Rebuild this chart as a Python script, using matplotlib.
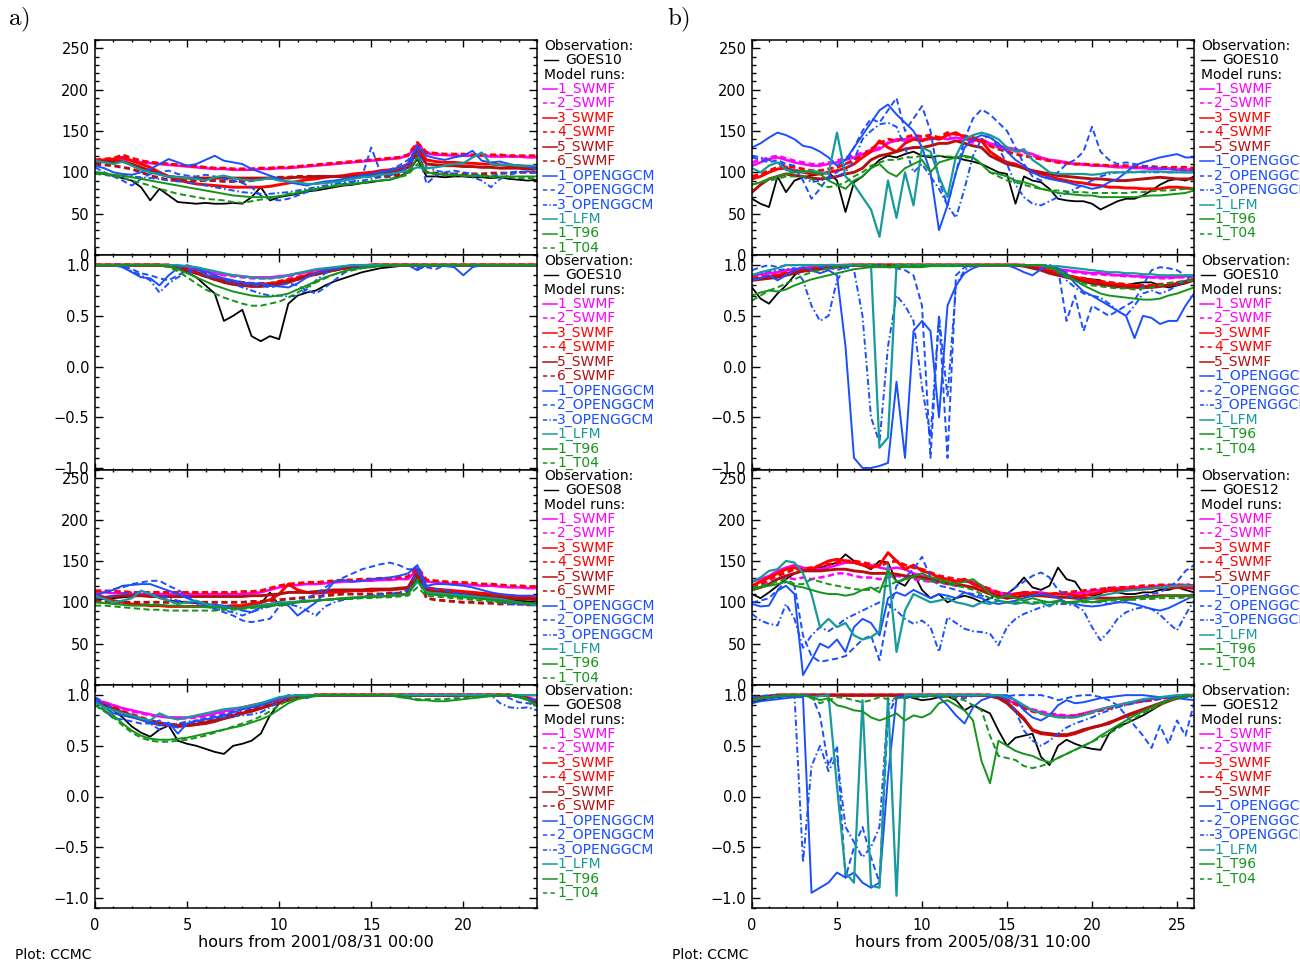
import numpy as np
import matplotlib
matplotlib.use("Agg")
import matplotlib.pyplot as plt
from matplotlib.lines import Line2D
from matplotlib.ticker import MultipleLocator, FuncFormatter

# ------------------------------------------------------------------ time axes
hours_a = np.arange(0, 24.01, 0.5)   # hours from 2001/08/31 00:00
hours_b = np.arange(0, 26.01, 0.5)   # hours from 2005/08/31 10:00

# ============================ event a: |B| at GOES10 ============================
a1_goes10 = [100, 98, 96, 93, 90, 82, 66, 80, 72, 64,
             63, 62, 63, 62, 62, 63, 62, 70, 82, 66,
             70, 72, 74, 77, 78, 80, 82, 84, 85, 87,
             88, 90, 91, 95, 100, 116, 95, 95, 94, 95,
             95, 94, 94, 93, 94, 92, 91, 90, 91]
a1_swmf1 = [113, 113, 114, 116, 114, 112, 111, 110, 109, 108,
            107, 106, 105, 104, 104, 103, 103, 103, 104, 104,
            105, 105, 106, 107, 108, 109, 110, 111, 112, 113,
            114, 115, 116, 117, 120, 134, 123, 121, 121, 120,
            120, 120, 120, 119, 119, 119, 119, 118, 118]
a1_swmf2 = [114, 114, 115, 118, 115, 113, 112, 111, 110, 109,
            108, 107, 106, 105, 105, 104, 104, 104, 105, 105,
            106, 106, 107, 108, 109, 110, 111, 112, 113, 114,
            115, 116, 117, 118, 121, 135, 124, 122, 121, 121,
            121, 121, 120, 120, 120, 120, 119, 119, 119]
a1_swmf3 = [114, 115, 116, 118, 114, 110, 106, 100, 95, 91,
            88, 86, 85, 84, 83, 82, 82, 82, 82, 83,
            85, 87, 89, 91, 92, 94, 95, 96, 98, 99,
            100, 102, 103, 105, 110, 130, 115, 113, 112, 112,
            111, 111, 110, 110, 109, 108, 108, 107, 106]
a1_swmf4 = [115, 116, 117, 121, 117, 114, 112, 111, 110, 109,
            108, 107, 106, 105, 105, 104, 104, 104, 105, 105,
            106, 106, 107, 108, 109, 110, 111, 112, 113, 114,
            115, 116, 117, 118, 121, 136, 124, 123, 122, 122,
            122, 121, 121, 121, 121, 120, 120, 120, 120]
a1_swmf5 = [112, 113, 113, 113, 110, 106, 102, 98, 95, 94,
            93, 93, 93, 93, 93, 93, 93, 93, 93, 93,
            93, 93, 94, 94, 95, 95, 95, 95, 95, 96,
            97, 98, 100, 102, 106, 126, 110, 109, 108, 108,
            107, 107, 106, 106, 105, 105, 105, 104, 104]
a1_swmf6 = [110, 109, 108, 106, 104, 100, 96, 93, 91, 90,
            90, 90, 90, 90, 89, 89, 89, 90, 92, 93,
            94, 94, 95, 95, 95, 95, 95, 95, 95, 95,
            95, 95, 95, 97, 100, 120, 100, 99, 98, 98,
            98, 98, 98, 99, 99, 99, 100, 100, 100]
a1_ogg1 = [108, 105, 100, 98, 97, 100, 104, 110, 116, 112,
           108, 110, 115, 120, 114, 112, 110, 104, 100, 96,
           92, 88, 86, 84, 87, 89, 90, 92, 94, 96,
           98, 100, 102, 105, 110, 132, 120, 117, 115, 118,
           120, 126, 114, 112, 113, 110, 108, 107, 104]
a1_ogg2 = [106, 100, 95, 90, 84, 92, 98, 100, 102, 98,
           96, 95, 97, 95, 92, 90, 87, 82, 72, 68,
           66, 68, 72, 76, 79, 82, 84, 86, 88, 95,
           130, 100, 103, 108, 115, 130, 86, 96, 100, 102,
           100, 98, 96, 95, 98, 100, 101, 100, 100]
a1_ogg3 = [100, 98, 96, 95, 95, 94, 93, 92, 90, 89,
           88, 86, 84, 82, 80, 78, 76, 75, 74, 74,
           75, 76, 78, 80, 82, 84, 86, 88, 89, 90,
           92, 94, 96, 100, 106, 124, 106, 102, 100, 98,
           96, 94, 90, 82, 92, 97, 100, 101, 102]
a1_lfm = [114, 112, 110, 113, 108, 103, 100, 97, 95, 94,
          93, 92, 90, 94, 96, 93, 91, 90, 91, 93,
          90, 89, 88, 86, 86, 87, 88, 90, 92, 94,
          95, 97, 98, 100, 102, 106, 105, 106, 108, 110,
          111, 118, 124, 110, 109, 109, 108, 108, 108]
a1_t96 = [100, 99, 97, 96, 94, 92, 90, 88, 86, 84,
          82, 80, 78, 76, 74, 72, 71, 70, 70, 70,
          71, 73, 75, 78, 80, 82, 83, 85, 86, 87,
          89, 90, 91, 94, 100, 118, 100, 98, 97, 97,
          96, 96, 96, 95, 95, 95, 95, 95, 95]
a1_t04 = [98, 97, 95, 93, 90, 87, 84, 80, 77, 74,
          72, 70, 68, 67, 66, 64, 63, 65, 67, 69,
          71, 74, 76, 78, 80, 82, 84, 85, 86, 88,
          89, 90, 92, 94, 97, 110, 100, 98, 97, 96,
          96, 95, 95, 94, 94, 94, 93, 93, 93]

# ===================== event a: field-direction cosine at GOES10 ================
a2_goes10 = [1, 1, 1, 1, 1, 1, 1, 1, .99, .97,
             .93, .88, .8, .72, .45, .5, .56, .3, .25, .3,
             .27, .62, .7, .73, .75, .8, .84, .87, .9, .93,
             .95, .97, .98, .99, 1, 1, 1, 1, 1, 1,
             1, 1, 1, 1, 1, 1, 1, 1, 1]
a2_swmf1 = [1, 1, 1, 1, 1, 1, 1, 1, 1, .99,
            .98, .96, .94, .92, .91, .9, .89, .88, .88, .88,
            .89, .9, .92, .93, .95, .96, .97, .98, .99, 1,
            1, 1, 1, 1, 1, 1, 1, 1, 1, 1,
            1, 1, 1, 1, 1, 1, 1, 1, 1]
a2_swmf2 = [1, 1, 1, 1, 1, 1, 1, 1, 1, .99,
            .98, .96, .93, .91, .9, .89, .88, .87, .87, .87,
            .88, .89, .91, .93, .94, .96, .97, .98, .99, 1,
            1, 1, 1, 1, 1, 1, 1, 1, 1, 1,
            1, 1, 1, 1, 1, 1, 1, 1, 1]
a2_swmf3 = [1, 1, 1, 1, 1, 1, 1, 1, 1, .98,
            .96, .93, .9, .87, .85, .83, .82, .81, .81, .82,
            .83, .85, .87, .9, .92, .94, .96, .97, .98, .99,
            1, 1, 1, 1, 1, 1, 1, 1, 1, 1,
            1, 1, 1, 1, 1, 1, 1, 1, 1]
a2_swmf4 = [1, 1, 1, 1, 1, 1, 1, 1, 1, .98,
            .96, .94, .91, .88, .86, .84, .83, .82, .82, .82,
            .84, .86, .88, .9, .92, .94, .96, .97, .98, .99,
            1, 1, 1, 1, 1, 1, 1, 1, 1, 1,
            1, 1, 1, 1, 1, 1, 1, 1, 1]
a2_swmf5 = [1, 1, 1, 1, 1, 1, 1, 1, .99, .97,
            .95, .92, .89, .86, .83, .81, .8, .79, .79, .8,
            .81, .83, .86, .89, .91, .93, .95, .97, .98, .99,
            1, 1, 1, 1, 1, 1, 1, 1, 1, 1,
            1, 1, 1, 1, 1, 1, 1, 1, 1]
a2_swmf6 = [1, 1, 1, 1, 1, 1, 1, 1, .99, .97,
            .95, .92, .89, .86, .84, .82, .81, .8, .8, .81,
            .82, .84, .86, .89, .91, .93, .95, .97, .98, .99,
            1, 1, 1, 1, 1, 1, 1, 1, 1, 1,
            1, 1, 1, 1, 1, 1, 1, 1, 1]
a2_ogg1 = [1, 1, 1, .98, .93, .88, .87, .8, .9, .97,
           1, .97, .9, .88, .87, .85, .83, .82, .82, .8,
           .79, .78, .82, .88, .92, .95, .97, .99, 1, 1,
           1, 1, 1, 1, 1, .95, 1, 1, .99, .98,
           .9, .98, 1, 1, 1, 1, 1, 1, 1]
a2_ogg2 = [1, 1, 1, .99, .96, .92, .9, .87, .85, .9,
           .95, .96, .94, .9, .87, .84, .82, .8, .8, .78,
           .8, .82, .8, .75, .72, .78, .85, .92, .97, .99,
           1, 1, 1, 1, 1, .97, .98, .96, 1, 1,
           1, 1, 1, 1, 1, 1, 1, 1, 1]
a2_ogg3 = [1, 1, 1, .98, .94, .9, .85, .73, .82, .88,
           .92, .95, .93, .9, .86, .82, .78, .75, .72, .7,
           .7, .69, .7, .76, .85, .92, .96, .98, 1, 1,
           1, 1, 1, 1, 1, 1, 1, 1, 1, 1,
           1, 1, 1, 1, 1, 1, 1, 1, 1]
a2_lfm = [1, 1, 1, 1, 1, 1, 1, 1, 1, 1,
          .99, .98, .96, .94, .92, .9, .89, .88, .87, .87,
          .88, .9, .92, .94, .96, .97, .98, .99, 1, 1,
          1, 1, 1, 1, 1, 1, 1, 1, 1, 1,
          1, 1, 1, 1, 1, 1, 1, 1, 1]
a2_t96 = [1, 1, 1, 1, 1, 1, 1, 1, .99, .96,
          .92, .88, .84, .8, .77, .74, .72, .7, .69, .69,
          .7, .72, .76, .8, .84, .88, .91, .94, .96, .97,
          .98, .99, 1, 1, 1, 1, 1, 1, 1, 1,
          1, 1, 1, 1, 1, 1, 1, 1, 1]
a2_t04 = [1, 1, 1, 1, 1, 1, 1, 1, .98, .94,
          .88, .82, .76, .72, .68, .65, .62, .6, .6, .62,
          .64, .68, .73, .78, .83, .87, .91, .93, .95, .97,
          .98, .99, 1, 1, 1, 1, 1, 1, 1, 1,
          1, 1, 1, 1, 1, 1, 1, 1, 1]

# ============================ event a: |B| at GOES08 ============================
a3_goes08 = [103, 104, 105, 106, 107, 108, 110, 106, 102, 101,
             100, 99, 98, 96, 95, 93, 95, 96, 98, 112,
             96, 100, 100, 101, 102, 103, 104, 104, 105, 106,
             107, 107, 108, 109, 110, 130, 112, 111, 110, 109,
             108, 107, 106, 105, 104, 103, 102, 101, 100]
a3_swmf1 = [112, 112, 111, 111, 110, 110, 110, 110, 110, 110,
            110, 110, 110, 110, 110, 110, 110, 111, 112, 115,
            118, 120, 121, 122, 122, 123, 124, 125, 125, 126,
            126, 127, 127, 128, 128, 140, 125, 124, 123, 122,
            122, 121, 120, 120, 119, 118, 118, 117, 117]
a3_swmf2 = [113, 113, 112, 112, 111, 111, 111, 111, 111, 111,
            111, 111, 111, 111, 111, 111, 112, 112, 113, 116,
            119, 121, 122, 123, 123, 124, 125, 126, 126, 127,
            127, 128, 128, 129, 129, 141, 126, 125, 124, 123,
            123, 122, 121, 121, 120, 119, 119, 118, 118]
a3_swmf3 = [110, 106, 102, 100, 98, 97, 96, 96, 95, 95,
            95, 95, 95, 95, 95, 96, 96, 98, 100, 103,
            110, 122, 115, 112, 111, 112, 112, 113, 114, 114,
            114, 115, 115, 116, 117, 136, 118, 116, 115, 114,
            113, 112, 111, 110, 109, 108, 107, 106, 105]
a3_swmf4 = [114, 114, 113, 113, 112, 112, 112, 112, 112, 112,
            112, 112, 112, 112, 112, 112, 113, 113, 114, 117,
            120, 122, 123, 124, 124, 125, 126, 127, 127, 128,
            128, 129, 129, 130, 131, 143, 127, 126, 125, 124,
            124, 123, 122, 122, 121, 120, 120, 119, 119]
a3_swmf5 = [105, 106, 107, 108, 108, 108, 107, 107, 107, 107,
            107, 107, 107, 107, 107, 107, 107, 108, 108, 109,
            110, 112, 112, 112, 113, 114, 115, 115, 115, 115,
            116, 116, 116, 117, 118, 138, 115, 113, 112, 111,
            110, 109, 108, 107, 106, 105, 104, 104, 103]
a3_swmf6 = [102, 101, 100, 100, 100, 100, 100, 100, 100, 100,
            100, 100, 100, 100, 100, 100, 100, 101, 101, 102,
            103, 104, 105, 106, 107, 108, 109, 110, 110, 110,
            110, 110, 111, 111, 112, 132, 105, 103, 102, 101,
            100, 100, 99, 99, 98, 98, 98, 97, 97]
a3_ogg1 = [108, 112, 115, 120, 121, 122, 122, 118, 114, 110,
           105, 101, 98, 97, 96, 94, 90, 88, 94, 98,
           100, 96, 84, 92, 100, 112, 125, 127, 125, 126,
           128, 129, 130, 132, 135, 145, 120, 122, 122, 121,
           120, 118, 115, 112, 110, 109, 108, 108, 108]
a3_ogg2 = [108, 112, 116, 118, 122, 124, 126, 126, 120, 115,
           108, 100, 95, 92, 88, 84, 78, 76, 78, 80,
           95, 98, 100, 105, 110, 118, 125, 130, 135, 140,
           143, 146, 148, 145, 140, 140, 118, 116, 115, 112,
           110, 108, 105, 103, 100, 99, 98, 97, 96]
a3_ogg3 = [105, 106, 108, 110, 112, 112, 110, 108, 105, 102,
           100, 98, 95, 92, 90, 88, 84, 88, 92, 95,
           100, 98, 95, 90, 84, 95, 100, 103, 105, 107,
           108, 110, 110, 112, 115, 140, 112, 111, 110, 109,
           108, 107, 106, 104, 100, 98, 97, 98, 100]
a3_lfm = [108, 104, 100, 102, 105, 114, 110, 105, 102, 98,
          100, 102, 98, 95, 94, 92, 93, 95, 97, 98,
          100, 100, 101, 102, 102, 103, 104, 105, 106, 106,
          107, 107, 108, 109, 110, 125, 112, 111, 110, 109,
          108, 107, 106, 105, 104, 102, 100, 98, 97]
a3_t96 = [100, 99, 98, 97, 96, 96, 97, 97, 96, 96,
          95, 95, 94, 94, 93, 93, 93, 94, 95, 96,
          97, 98, 100, 101, 102, 103, 104, 105, 105, 106,
          107, 107, 108, 109, 110, 128, 110, 109, 108, 107,
          106, 105, 104, 103, 102, 101, 100, 99, 99]
a3_t04 = [96, 96, 95, 94, 93, 92, 91, 91, 90, 90,
          90, 90, 90, 90, 91, 91, 92, 93, 94, 95,
          97, 98, 100, 101, 102, 103, 103, 104, 104, 105,
          105, 106, 106, 107, 108, 118, 108, 107, 106, 105,
          104, 103, 102, 101, 100, 99, 99, 98, 98]

# ===================== event a: field-direction cosine at GOES08 ================
a4_goes08 = [.96, .9, .85, .78, .69, .63, .59, .66, .7, .55,
             .52, .5, .47, .44, .42, .5, .52, .55, .62, .8,
             .92, .96, .99, 1, 1, 1, 1, 1, 1, 1,
             1, 1, 1, 1, 1, 1, 1, .99, .99, .99,
             1, 1, 1, 1, 1, 1, 1, .97, .93]
a4_swmf1 = [.95, .93, .9, .87, .85, .83, .81, .79, .78, .78,
            .78, .79, .8, .82, .84, .86, .88, .9, .92, .94,
            .96, .98, .99, 1, 1, 1, 1, 1, 1, 1,
            1, 1, 1, 1, 1, 1, 1, 1, 1, 1,
            1, 1, 1, 1, 1, 1, 1, .98, .95]
a4_swmf2 = [.95, .93, .9, .87, .84, .82, .8, .79, .78, .77,
            .77, .78, .79, .81, .83, .85, .87, .89, .91, .93,
            .95, .97, .99, 1, 1, 1, 1, 1, 1, 1,
            1, 1, 1, 1, 1, 1, 1, 1, 1, 1,
            1, 1, 1, 1, 1, 1, .99, .97, .94]
a4_swmf3 = [.93, .9, .87, .83, .8, .77, .74, .72, .7, .7,
            .7, .71, .73, .75, .77, .8, .82, .85, .87, .9,
            .93, .96, .98, .99, 1, 1, 1, 1, 1, 1,
            1, 1, 1, 1, 1, 1, 1, 1, 1, 1,
            1, 1, 1, 1, 1, 1, .99, .97, .93]
a4_swmf4 = [.94, .91, .88, .84, .81, .78, .75, .73, .71, .71,
            .71, .72, .74, .76, .78, .81, .83, .86, .88, .91,
            .94, .96, .98, .99, 1, 1, 1, 1, 1, 1,
            1, 1, 1, 1, 1, 1, 1, 1, 1, 1,
            1, 1, 1, 1, 1, 1, .99, .97, .94]
a4_swmf5 = [.93, .9, .86, .82, .79, .76, .73, .71, .7, .69,
            .7, .71, .72, .74, .77, .79, .82, .84, .87, .9,
            .92, .95, .97, .99, 1, 1, 1, 1, 1, 1,
            1, 1, 1, 1, 1, 1, 1, 1, 1, 1,
            1, 1, 1, 1, 1, 1, .99, .96, .92]
a4_swmf6 = [.94, .9, .87, .83, .8, .77, .74, .72, .71, .7,
            .71, .72, .73, .75, .78, .8, .83, .85, .88, .9,
            .93, .95, .97, .99, 1, 1, 1, 1, 1, 1,
            1, 1, 1, 1, 1, 1, 1, 1, 1, 1,
            1, 1, 1, 1, 1, 1, .99, .96, .93]
a4_ogg1 = [.97, .88, .82, .8, .78, .76, .74, .7, .73, .62,
           .72, .74, .76, .78, .8, .83, .86, .88, .9, .93,
           .97, .99, 1, .97, 1, 1, 1, 1, 1, 1,
           1, 1, 1, 1, 1, 1, 1, 1, 1, 1,
           1, 1, 1, 1, 1, 1, .98, .96, .95]
a4_ogg2 = [.95, .85, .77, .76, .74, .72, .72, .75, .7, .68,
           .72, .75, .77, .79, .81, .84, .86, .88, .91, .94,
           .97, 1, 1, .98, 1, 1, 1, 1, 1, 1,
           1, 1, 1, 1, 1, 1, 1, 1, 1, 1,
           1, 1, 1, 1, 1, .97, .93, .92, .9]
a4_ogg3 = [.98, .93, .86, .82, .8, .76, .72, .66, .7, .72,
           .74, .75, .76, .77, .78, .79, .8, .81, .83, .88,
           .94, .98, 1, 1, 1, 1, 1, 1, 1, 1,
           1, 1, 1, 1, 1, 1, 1, 1, 1, 1,
           1, 1, 1, 1, .92, .88, .87, .88, .85]
a4_lfm = [.93, .88, .85, .82, .8, .77, .75, .82, .78, .76,
          .78, .8, .82, .84, .86, .87, .88, .9, .92, .95,
          .98, .99, 1, 1, 1, 1, 1, 1, 1, 1,
          1, 1, 1, 1, 1, 1, 1, 1, 1, 1,
          1, 1, 1, 1, 1, 1, 1, 1, 1]
a4_t96 = [.9, .85, .8, .72, .65, .6, .57, .56, .56, .57,
          .58, .6, .62, .64, .66, .68, .7, .73, .76, .8,
          .86, .92, .96, .98, .99, 1, 1, 1, 1, 1,
          1, 1, 1, .98, .97, .95, .95, .94, .94, .95,
          .96, .97, .98, .99, 1, 1, .98, .95, .89]
a4_t04 = [.9, .84, .78, .7, .63, .58, .55, .54, .54, .55,
          .56, .58, .6, .63, .66, .69, .72, .75, .79, .84,
          .9, .95, .98, .99, 1, 1, 1, 1, 1, 1,
          1, 1, 1, 1, .98, .96, .96, .96, .96, .97,
          .97, .98, .99, 1, 1, 1, .99, .96, .9]

# ============================ event b: |B| at GOES10 ============================
b1_goes10 = [68, 62, 58, 95, 76, 90, 94, 96, 98, 100,
             90, 52, 88, 95, 105, 115, 120, 118, 122, 125,
             120, 118, 120, 118, 118, 115, 113, 110, 105, 100,
             98, 62, 95, 90, 88, 80, 68, 66, 65, 65,
             62, 55, 60, 65, 68, 68, 72, 78, 85, 90,
             92, 90, 95]
b1_swmf1 = [108, 112, 116, 118, 115, 112, 110, 108, 108, 110,
            112, 115, 118, 122, 125, 128, 135, 140, 138, 142,
            140, 140, 142, 140, 142, 140, 138, 140, 135, 132,
            130, 128, 125, 122, 118, 115, 114, 112, 110, 110,
            108, 108, 107, 106, 106, 105, 105, 104, 104, 104,
            103, 103, 103]
b1_swmf2 = [112, 115, 118, 120, 117, 114, 112, 110, 110, 112,
            114, 118, 120, 124, 127, 130, 136, 138, 140, 140,
            138, 142, 140, 143, 140, 138, 136, 138, 133, 130,
            128, 126, 124, 120, 117, 114, 113, 111, 110, 109,
            109, 108, 108, 107, 107, 106, 106, 105, 105, 105,
            104, 104, 104]
b1_swmf3 = [92, 95, 100, 104, 105, 102, 100, 98, 98, 100,
            102, 105, 110, 118, 125, 138, 130, 125, 135, 140,
            138, 142, 140, 145, 148, 142, 140, 138, 125, 118,
            112, 110, 105, 100, 98, 95, 92, 90, 88, 87,
            85, 84, 82, 82, 81, 81, 80, 80, 80, 82,
            82, 81, 80]
b1_swmf4 = [95, 98, 102, 106, 108, 106, 104, 102, 102, 104,
            106, 110, 115, 120, 128, 135, 140, 138, 142, 145,
            143, 145, 142, 148, 146, 144, 142, 140, 132, 128,
            125, 122, 120, 118, 116, 114, 112, 111, 110, 110,
            109, 109, 108, 108, 108, 107, 107, 107, 106, 106,
            106, 106, 105]
b1_swmf5 = [76, 85, 92, 95, 98, 96, 95, 93, 92, 93,
            95, 98, 100, 105, 115, 120, 122, 125, 128, 130,
            130, 132, 135, 135, 138, 135, 132, 130, 120, 115,
            110, 108, 105, 102, 100, 98, 96, 95, 94, 93,
            92, 92, 91, 90, 90, 91, 92, 93, 94, 93,
            92, 92, 92]
b1_ogg1 = [130, 135, 142, 148, 145, 140, 132, 130, 125, 118,
           108, 115, 130, 145, 160, 175, 182, 170, 160, 150,
           130, 100, 30, 60, 100, 130, 140, 145, 142, 135,
           125, 115, 108, 100, 95, 92, 90, 88, 85, 83,
           80, 82, 88, 92, 100, 108, 112, 115, 118, 120,
           122, 118, 118]
b1_ogg2 = [118, 115, 112, 115, 110, 108, 90, 68, 80, 95,
           100, 110, 130, 150, 165, 160, 175, 190, 150, 165,
           180, 150, 90, 60, 100, 140, 165, 176, 170, 160,
           150, 130, 110, 95, 90, 95, 100, 110, 115, 125,
           155, 125, 115, 110, 112, 110, 108, 106, 105, 104,
           103, 102, 102]
b1_ogg3 = [120, 118, 115, 112, 108, 100, 95, 88, 90, 92,
           95, 100, 115, 140, 150, 158, 160, 155, 130, 100,
           110, 95, 80, 60, 45, 80, 120, 140, 145, 130,
           110, 85, 70, 62, 60, 65, 70, 75, 80, 85,
           90, 95, 98, 100, 100, 101, 100, 100, 100, 100,
           100, 100, 100]
b1_lfm = [105, 100, 108, 112, 103, 100, 100, 102, 100, 98,
          148, 95, 85, 70, 55, 22, 90, 45, 100, 60,
          130, 125, 95, 70, 120, 140, 145, 148, 145, 140,
          130, 125, 128, 115, 108, 100, 98, 98, 98, 98,
          97, 98, 100, 100, 100, 100, 101, 101, 101, 100,
          100, 100, 100]
b1_t96 = [85, 88, 92, 95, 98, 100, 102, 100, 98, 90,
          85, 80, 90, 95, 105, 110, 100, 95, 105, 110,
          115, 100, 112, 115, 118, 120, 118, 110, 100, 98,
          95, 90, 88, 85, 80, 78, 75, 74, 73, 72,
          72, 70, 70, 70, 70, 70, 71, 72, 72, 73,
          74, 75, 78]
b1_t04 = [85, 88, 90, 92, 95, 95, 95, 92, 85, 82,
          84, 88, 95, 100, 108, 112, 115, 115, 118, 118,
          120, 120, 120, 119, 119, 118, 118, 110, 100, 95,
          90, 88, 85, 82, 80, 78, 78, 77, 76, 76,
          75, 75, 75, 75, 75, 76, 76, 77, 78, 78,
          79, 80, 80]

# ===================== event b: field-direction cosine at GOES10 ================
b2_goes10 = [.78, .67, .62, .72, .8, .9, .97, .98, 1, 1,
             1, 1, 1, 1, 1, 1, 1, 1, 1, 1,
             1, 1, 1, 1, 1, 1, 1, 1, 1, 1,
             1, 1, .99, .98, .97, .95, .93, .9, .88, .87,
             .86, .85, .8, .78, .8, .82, .83, .83, .8, .78,
             .8, .82, .85]
b2_swmf1 = [.9, .91, .92, .93, .95, .96, .97, .98, .99, 1,
            1, 1, 1, 1, 1, 1, 1, 1, 1, 1,
            1, 1, 1, 1, 1, 1, 1, 1, 1, 1,
            1, 1, 1, .99, .98, .97, .96, .95, .94, .93,
            .92, .92, .91, .9, .9, .89, .89, .88, .88, .88,
            .88, .89, .9]
b2_swmf2 = [.89, .9, .91, .93, .94, .96, .97, .98, .99, 1,
            1, 1, 1, 1, 1, 1, 1, 1, 1, 1,
            1, 1, 1, 1, 1, 1, 1, 1, 1, 1,
            1, 1, .99, .98, .97, .96, .95, .94, .93, .92,
            .91, .91, .9, .9, .89, .89, .88, .88, .87, .87,
            .88, .88, .89]
b2_swmf3 = [.86, .87, .88, .9, .92, .93, .95, .96, .97, .98,
            .99, 1, 1, 1, 1, 1, 1, 1, 1, 1,
            1, 1, 1, 1, 1, 1, 1, 1, 1, 1,
            1, 1, 1, .98, .96, .94, .92, .9, .88, .86,
            .85, .83, .82, .81, .8, .8, .79, .79, .8, .8,
            .82, .84, .86]
b2_swmf4 = [.87, .88, .89, .9, .92, .94, .95, .96, .97, .98,
            .99, 1, 1, 1, 1, 1, 1, 1, 1, 1,
            1, 1, 1, 1, 1, 1, 1, 1, 1, 1,
            1, 1, 1, .98, .96, .94, .92, .9, .88, .87,
            .85, .84, .83, .82, .81, .8, .8, .8, .81, .82,
            .83, .84, .86]
b2_swmf5 = [.85, .86, .87, .88, .9, .92, .94, .95, .96, .97,
            .98, .99, 1, 1, 1, 1, 1, 1, 1, 1,
            1, 1, 1, 1, 1, 1, 1, 1, 1, 1,
            1, 1, .99, .97, .95, .92, .9, .88, .86, .84,
            .82, .81, .8, .79, .78, .78, .78, .78, .79, .8,
            .81, .83, .85]
b2_ogg1 = [.85, .87, .9, .85, .9, .95, .98, .95, .92, .95,
           .9, .2, -.9, -1, -1, -.98, -.95, -.15, -.9, .35,
           .45, .35, -.5, .6, .8, .92, .97, 1, 1, 1,
           1, .97, .93, .9, .96, .99, .97, .92, .82, .74,
           .7, .65, .6, .55, .5, .28, .5, .48, .42, .45,
           .45, .6, .72]
b2_ogg2 = [.95, .98, 1, .98, 1, 1, 1, 1, .98, .98,
           .95, .98, 1, 1, 1, 1, .98, .97, .95, .9,
           .6, -.9, .5, -.9, .9, .98, 1, 1, 1, 1,
           1, 1, 1, 1, 1, 1, .97, .45, .7, .35,
           .6, .55, .5, .55, .6, .65, .8, .95, .98, .97,
           .95, .9, .85]
b2_ogg3 = [.9, .92, .94, .95, .96, .97, .85, .6, .45, .5,
           .85, .98, .95, .5, -.5, -.75, .2, .7, .6, .45,
           -.2, -.7, .5, -.3, .8, .95, 1, 1, 1, 1,
           1, 1, 1, 1, 1, 1, .95, .85, .78, .72,
           .7, .68, .62, .55, .5, .6, .72, .75, .72, .75,
           .8, .85, .9]
b2_lfm = [.9, .93, .95, .97, 1, 1, 1, 1, 1, 1,
          1, 1, 1, 1, 1, -.8, -.7, 1, 1, 1,
          1, 1, 1, 1, 1, 1, 1, 1, 1, 1,
          1, 1, 1, 1, 1, .99, .99, .98, .97, .96,
          .95, .94, .93, .93, .92, .92, .91, .91, .9, .9,
          .9, .9, .9]
b2_t96 = [.7, .73, .75, .74, .76, .8, .83, .86, .88, .9,
          .92, .94, .96, .97, .98, .98, .98, .98, .98, .98,
          .98, .99, .99, .99, .99, 1, 1, 1, 1, 1,
          1, 1, 1, 1, 1, .98, .95, .9, .85, .8,
          .76, .72, .7, .69, .68, .67, .66, .66, .67, .7,
          .72, .75, .78]
b2_t04 = [.65, .7, .75, .78, .82, .86, .9, .93, .95, .97,
          .98, .99, 1, 1, 1, 1, 1, 1, 1, 1,
          1, 1, 1, 1, 1, 1, 1, 1, 1, 1,
          1, 1, 1, 1, 1, .97, .93, .88, .85, .82,
          .8, .79, .78, .77, .77, .76, .77, .78, .8, .82,
          .83, .84, .85]

# ============================ event b: |B| at GOES12 ============================
b3_goes12 = [110, 105, 112, 120, 128, 135, 138, 140, 142, 145,
             148, 158, 150, 145, 140, 150, 148, 125, 120, 135,
             115, 105, 110, 100, 105, 108, 105, 100, 105, 110,
             110, 118, 130, 118, 115, 120, 142, 128, 125, 110,
             108, 110, 118, 112, 110, 110, 112, 112, 115, 115,
             118, 115, 112]
b3_swmf1 = [125, 128, 132, 138, 142, 145, 142, 140, 140, 142,
            145, 148, 148, 146, 145, 142, 140, 142, 140, 135,
            132, 130, 128, 128, 126, 125, 125, 120, 115, 112,
            110, 110, 110, 112, 112, 110, 110, 110, 110, 112,
            114, 115, 116, 117, 118, 118, 118, 119, 120, 120,
            120, 118, 116]
b3_swmf2 = [120, 122, 125, 128, 130, 128, 130, 128, 130, 132,
            135, 135, 132, 130, 130, 128, 130, 132, 130, 128,
            126, 125, 124, 122, 120, 120, 118, 116, 112, 110,
            108, 108, 108, 109, 110, 110, 110, 110, 111, 112,
            113, 114, 115, 116, 117, 118, 118, 119, 120, 120,
            121, 121, 122]
b3_swmf3 = [120, 125, 130, 135, 140, 142, 138, 140, 145, 150,
            152, 150, 148, 145, 142, 145, 160, 150, 140, 145,
            138, 135, 130, 128, 125, 128, 122, 118, 112, 108,
            105, 110, 112, 110, 108, 110, 110, 110, 108, 108,
            110, 112, 114, 115, 115, 116, 116, 117, 118, 118,
            118, 118, 118]
b3_swmf4 = [118, 122, 128, 132, 136, 140, 140, 142, 144, 146,
            148, 150, 150, 148, 146, 144, 148, 150, 145, 142,
            140, 136, 132, 130, 128, 126, 124, 120, 116, 112,
            110, 110, 112, 112, 110, 110, 111, 112, 113, 114,
            115, 116, 117, 118, 118, 119, 120, 120, 121, 121,
            121, 121, 120]
b3_swmf5 = [115, 118, 122, 128, 132, 135, 138, 138, 138, 139,
            140, 140, 138, 137, 135, 135, 135, 134, 132, 131,
            130, 128, 125, 123, 122, 120, 118, 114, 110, 107,
            105, 106, 108, 108, 108, 107, 106, 106, 105, 105,
            105, 105, 105, 105, 106, 106, 107, 107, 108, 108,
            108, 108, 108]
b3_ogg1 = [98, 95, 96, 114, 120, 110, 12, 30, 50, 45,
           55, 40, 70, 80, 75, 60, 105, 112, 108, 115,
           110, 105, 110, 108, 105, 112, 108, 105, 100, 98,
           100, 102, 105, 108, 110, 108, 105, 100, 98, 96,
           95, 96, 98, 100, 100, 98, 95, 92, 90, 93,
           98, 103, 108]
b3_ogg2 = [100, 102, 105, 115, 125, 120, 60, 35, 28, 30,
           32, 35, 45, 55, 60, 30, 85, 120, 130, 140,
           155, 130, 120, 118, 115, 112, 110, 108, 105, 105,
           110, 118, 125, 132, 136, 130, 115, 108, 105, 102,
           100, 100, 98, 100, 102, 105, 108, 110, 112, 118,
           125, 138, 145]
b3_ogg3 = [86, 78, 74, 72, 98, 80, 45, 60, 70, 65,
           72, 80, 85, 90, 95, 100, 98, 90, 80, 74,
           78, 70, 40, 82, 75, 68, 65, 64, 62, 48,
           70, 80, 86, 90, 94, 97, 98, 98, 96, 90,
           70, 54, 65, 80, 88, 92, 94, 92, 85, 75,
           66, 85, 102]
b3_lfm = [125, 130, 138, 140, 150, 148, 135, 110, 70, 80,
          70, 75, 60, 55, 58, 65, 145, 40, 90, 110,
          105, 100, 102, 105, 100, 98, 95, 100, 98, 102,
          100, 98, 100, 98, 100, 95, 102, 100, 100, 102,
          105, 108, 110, 112, 114, 115, 116, 117, 118, 119,
          120, 120, 120]
b3_t96 = [115, 118, 120, 122, 125, 120, 118, 115, 112, 110,
          110, 108, 110, 115, 118, 112, 138, 125, 128, 132,
          135, 130, 128, 125, 122, 125, 128, 120, 110, 105,
          108, 105, 102, 105, 102, 100, 102, 100, 101, 102,
          100, 102, 103, 104, 104, 105, 106, 106, 107, 108,
          108, 108, 108]
b3_t04 = [118, 120, 122, 125, 128, 122, 122, 128, 125, 122,
          120, 118, 116, 115, 115, 118, 120, 125, 128, 130,
          128, 125, 125, 122, 120, 118, 115, 110, 105, 102,
          100, 100, 100, 100, 100, 100, 100, 100, 100, 100,
          100, 101, 102, 102, 103, 103, 104, 104, 105, 105,
          105, 106, 106]

# ===================== event b: field-direction cosine at GOES12 ================
b4_goes12 = [.93, .95, .97, .98, .99, 1, 1, 1, 1, 1,
             1, 1, 1, 1, 1, 1, 1, 1, 1, .97,
             .95, .96, .98, .99, .95, .85, .9, .86, .82, .65,
             .5, .58, .6, .62, .39, .31, .5, .56, .52, .49,
             .47, .46, .62, .69, .72, .76, .8, .85, .9, .95,
             .97, .99, 1]
b4_swmf1 = [.95, .97, .98, .99, 1, 1, 1, 1, 1, 1,
            1, 1, 1, 1, 1, 1, 1, 1, 1, 1,
            1, 1, 1, 1, 1, 1, 1, 1, 1, .98,
            .95, .92, .88, .85, .83, .81, .8, .79, .8, .82,
            .84, .86, .88, .9, .92, .93, .94, .96, .97, .98,
            .99, 1, 1]
b4_swmf2 = [.95, .97, .98, .99, 1, 1, 1, 1, 1, 1,
            1, 1, 1, 1, 1, 1, 1, 1, 1, 1,
            1, 1, 1, 1, 1, 1, 1, 1, 1, .98,
            .96, .93, .89, .86, .84, .82, .81, .8, .8, .81,
            .83, .85, .87, .89, .91, .93, .94, .95, .97, .98,
            .99, .99, 1]
b4_swmf3 = [.96, .98, .99, 1, 1, 1, 1, 1, 1, 1,
            1, 1, 1, 1, 1, 1, 1, 1, 1, 1,
            1, 1, 1, 1, 1, 1, 1, 1, 1, .98,
            .93, .85, .77, .65, .62, .61, .6, .6, .62, .65,
            .68, .7, .72, .76, .79, .82, .85, .88, .91, .94,
            .97, .99, 1]
b4_swmf4 = [.96, .98, .99, 1, 1, 1, 1, 1, 1, 1,
            1, 1, 1, 1, 1, 1, 1, 1, 1, 1,
            1, 1, 1, 1, 1, 1, 1, 1, 1, .98,
            .95, .91, .87, .84, .82, .8, .79, .78, .79, .81,
            .83, .85, .87, .89, .91, .93, .94, .95, .97, .98,
            .99, 1, 1]
b4_swmf5 = [.95, .97, .99, 1, 1, 1, 1, 1, 1, 1,
            1, 1, 1, 1, 1, 1, 1, 1, 1, 1,
            1, 1, 1, 1, 1, 1, 1, 1, .99, .97,
            .92, .84, .76, .66, .63, .62, .61, .61, .63, .66,
            .68, .7, .73, .76, .8, .83, .86, .89, .92, .95,
            .97, .99, 1]
b4_ogg1 = [.92, .94, .95, .96, .97, .98, .98, -.95, -.9, -.85,
           -.75, -.8, -.75, -.85, -.9, -.85, .2, .97, .98, .98,
           .99, 1, .98, .9, .8, .72, .88, .95, .98, 1,
           1, .95, .85, .78, .75, .8, .9, .95, .92, .93,
           .95, .97, .98, .99, 1, 1, 1, .99, .98, .98,
           .97, .96, .95]
b4_ogg2 = [.98, .99, 1, 1, 1, 1, 1, 1, .8, .3,
           .5, -.8, -.5, -.3, -.6, -.85, .8, .98, 1, 1,
           1, 1, 1, 1, .98, .97, .99, 1, 1, .98,
           .99, 1, 1, 1, 1, .98, .95, .97, .99, 1,
           1, .98, .95, .9, .8, .7, .6, .48, .7, .52,
           .75, .6, .92]
b4_ogg3 = [.95, .96, .97, .98, .99, 1, -.65, .3, .5, .25,
           .4, -.3, -.45, -.6, -.5, -.3, .9, .98, 1, 1,
           1, 1, 1, 1, 1, 1, 1, 1, 1, 1,
           .95, .85, .65, .55, .5, .55, .62, .68, .72, .75,
           .78, .82, .85, .88, .9, .92, .94, .95, .96, .97,
           .98, .98, .98]
b4_lfm = [.95, .97, .98, .99, 1, 1, 1, .98, .99, 1,
          .1, -.75, -.85, .95, -.88, -.9, .98, -.98, 1, 1,
          1, 1, 1, 1, 1, 1, 1, 1, 1, 1,
          .98, .95, .9, .85, .82, .8, .78, .78, .78, .8,
          .83, .86, .88, .9, .92, .94, .96, .97, .98, .99,
          1, 1, 1]
b4_t96 = [.95, .97, .98, .99, 1, 1, 1, .98, .95, .97,
          .9, .88, .85, .84, .78, .75, .78, .82, .75, .8,
          .78, .82, .92, .95, .9, .85, .75, .35, .13, .55,
          .5, .45, .42, .4, .36, .34, .38, .42, .46, .5,
          .54, .6, .65, .7, .75, .8, .84, .88, .92, .95,
          .97, .99, 1]
b4_t04 = [.95, .97, .98, .99, 1, 1, 1, .97, .92, .95,
          .98, .97, .95, .93, .95, .98, .96, .97, .97, .98,
          .98, .99, .99, .98, .97, .95, .9, .85, .6, .4,
          .38, .36, .3, .28, .3, .33, .38, .42, .46, .5,
          .54, .58, .62, .67, .72, .77, .82, .86, .9, .94,
          .97, .99, 1]

# ---------------------------------------------------------------- styling
DASH = (0, (4.5, 2.5))
DASHDOT = (0, (4.5, 2, 1.2, 2))
RUN_STYLE = {
    "1_SWMF": ("#ff00ff", "-", 1.8),
    "2_SWMF": ("#ff00ff", DASH, 1.8),
    "3_SWMF": ("#ff0000", "-", 2.1),
    "4_SWMF": ("#ff0000", DASH, 2.1),
    "5_SWMF": ("#b41010", "-", 2.1),
    "6_SWMF": ("#b41010", DASH, 2.1),
    "1_OPENGGCM": ("#1a4fff", "-", 1.4),
    "2_OPENGGCM": ("#1a4fff", DASH, 1.4),
    "3_OPENGGCM": ("#1a4fff", DASHDOT, 1.4),
    "1_LFM": ("#169a9a", "-", 1.6),
    "1_T96": ("#15941a", "-", 1.4),
    "1_T04": ("#15941a", DASH, 1.4),
}
KEY_DASH = (0, (3, 2.5))
KEY_DASHDOT = (0, (3, 1.6, 1, 1.6))

labels_a = ["1_SWMF", "2_SWMF", "3_SWMF", "4_SWMF", "5_SWMF", "6_SWMF",
            "1_OPENGGCM", "2_OPENGGCM", "3_OPENGGCM", "1_LFM", "1_T96", "1_T04"]
labels_b = ["1_SWMF", "2_SWMF", "3_SWMF", "4_SWMF", "5_SWMF",
            "1_OPENGGCM", "2_OPENGGCM", "3_OPENGGCM", "1_LFM", "1_T96", "1_T04"]

panels = [
    # (row, col, station, observation, model runs)
    (0, 0, "GOES10", a1_goes10, [a1_swmf1, a1_swmf2, a1_swmf3, a1_swmf4, a1_swmf5, a1_swmf6,
                                 a1_ogg1, a1_ogg2, a1_ogg3, a1_lfm, a1_t96, a1_t04]),
    (1, 0, "GOES10", a2_goes10, [a2_swmf1, a2_swmf2, a2_swmf3, a2_swmf4, a2_swmf5, a2_swmf6,
                                 a2_ogg1, a2_ogg2, a2_ogg3, a2_lfm, a2_t96, a2_t04]),
    (2, 0, "GOES08", a3_goes08, [a3_swmf1, a3_swmf2, a3_swmf3, a3_swmf4, a3_swmf5, a3_swmf6,
                                 a3_ogg1, a3_ogg2, a3_ogg3, a3_lfm, a3_t96, a3_t04]),
    (3, 0, "GOES08", a4_goes08, [a4_swmf1, a4_swmf2, a4_swmf3, a4_swmf4, a4_swmf5, a4_swmf6,
                                 a4_ogg1, a4_ogg2, a4_ogg3, a4_lfm, a4_t96, a4_t04]),
    (0, 1, "GOES10", b1_goes10, [b1_swmf1, b1_swmf2, b1_swmf3, b1_swmf4, b1_swmf5,
                                 b1_ogg1, b1_ogg2, b1_ogg3, b1_lfm, b1_t96, b1_t04]),
    (1, 1, "GOES10", b2_goes10, [b2_swmf1, b2_swmf2, b2_swmf3, b2_swmf4, b2_swmf5,
                                 b2_ogg1, b2_ogg2, b2_ogg3, b2_lfm, b2_t96, b2_t04]),
    (2, 1, "GOES12", b3_goes12, [b3_swmf1, b3_swmf2, b3_swmf3, b3_swmf4, b3_swmf5,
                                 b3_ogg1, b3_ogg2, b3_ogg3, b3_lfm, b3_t96, b3_t04]),
    (3, 1, "GOES12", b4_goes12, [b4_swmf1, b4_swmf2, b4_swmf3, b4_swmf4, b4_swmf5,
                                 b4_ogg1, b4_ogg2, b4_ogg3, b4_lfm, b4_t96, b4_t04]),
]

# ---------------------------------------------------------------- layout
W, H = 1300, 964
plt.rcParams["font.family"] = ["DejaVu Sans"]
plt.rcParams["mathtext.fontset"] = "cm"
plt.rcParams["axes.linewidth"] = 1.1
plt.rcParams["lines.scale_dashes"] = False

fig = plt.figure(figsize=(W / 100, H / 100), dpi=100)


def fx(px):
    return px / W


def fy(py):
    return 1 - py / H


ROWS = [(40, 255), (255, 470), (470, 685), (685, 908)]
COLS = [(95, 537), (752, 1194)]
YLIMS = [(0, 260), (-1.02, 1.1), (0, 260), (-1.1, 1.1)]
XMAX = [24, 26]
HOURS = [hours_a, hours_b]
LABELS = [labels_a, labels_b]
KEY_X = [544, 1201]
XLABELS = ["hours from 2001/08/31 00:00", "hours from 2005/08/31 10:00"]


def fmt_field(v, pos):
    return f"{v:.0f}"


def fmt_cos(v, pos):
    v = round(v, 3) + 0.0
    return f"{v:.1f}".replace("-", "\u2212")


def key_style(ls):
    if ls == "-":
        return "-"
    return KEY_DASHDOT if ls == DASHDOT else KEY_DASH


for row, col, station, obs, runs in panels:
    x0, x1 = COLS[col]
    y0, y1 = ROWS[row]
    ax = fig.add_axes([fx(x0), fy(y1), (x1 - x0) / W, (y1 - y0) / H])
    hours = HOURS[col]

    ax.plot(hours, obs, color="black", lw=1.3)
    for vals, label in zip(runs, LABELS[col]):
        color, ls, lw = RUN_STYLE[label]
        ax.plot(hours, vals, color=color, ls=ls, lw=lw)

    ax.set_xlim(0, XMAX[col])
    ax.set_ylim(*YLIMS[row])
    ax.xaxis.set_major_locator(MultipleLocator(5))
    ax.xaxis.set_minor_locator(MultipleLocator(1))
    if row % 2 == 0:
        ax.yaxis.set_major_locator(MultipleLocator(50))
        ax.yaxis.set_minor_locator(MultipleLocator(10))
        ax.yaxis.set_major_formatter(FuncFormatter(fmt_field))
    else:
        ax.yaxis.set_major_locator(MultipleLocator(0.5))
        ax.yaxis.set_minor_locator(MultipleLocator(0.1))
        ax.yaxis.set_major_formatter(FuncFormatter(fmt_cos))
    ax.tick_params(axis="both", which="both", direction="in", top=True, right=True,
                   width=1.0, labelsize=10.5)
    ax.tick_params(axis="y", which="major", length=6, pad=4)
    ax.tick_params(axis="y", which="minor", length=3)
    ax.tick_params(axis="x", which="major", length=5, pad=7)
    ax.tick_params(axis="x", which="minor", length=1.6)
    if row < 3:
        ax.tick_params(axis="x", labelbottom=False)

    # key to the right of the panel
    kx = KEY_X[col]
    fig.text(fx(kx), fy(y0 + 6), "Observation:", fontsize=10, va="center", ha="left")
    fig.add_artist(Line2D([fx(kx), fx(kx + 14)], [fy(y0 + 20)] * 2,
                          transform=fig.transFigure, color="black", lw=1.0))
    fig.text(fx(kx + 21), fy(y0 + 20), station, fontsize=10, va="center", ha="left")
    fig.text(fx(kx), fy(y0 + 35), "Model runs:", fontsize=10, va="center", ha="left")
    for k, label in enumerate(LABELS[col]):
        color, ls, lw = RUN_STYLE[label]
        yk = y0 + 49 + 14.45 * k
        fig.add_artist(Line2D([fx(kx - 1), fx(kx + 13)], [fy(yk)] * 2,
                              transform=fig.transFigure, color=color,
                              ls=key_style(ls), lw=1.1))
        fig.text(fx(kx + 13), fy(yk), label, color=color, fontsize=10,
                 va="center", ha="left")

for col in range(2):
    x0, x1 = COLS[col]
    fig.text(fx((x0 + x1) / 2), fy(942), XLABELS[col], fontsize=11.5,
             ha="center", va="center")

fig.text(fx(15), fy(955), "Plot: CCMC", fontsize=10, ha="left", va="center")
fig.text(fx(672), fy(955), "Plot: CCMC", fontsize=10, ha="left", va="center")
fig.text(fx(8), fy(20), r"$\mathrm{a)}$", fontsize=18, ha="left", va="center")
fig.text(fx(667), fy(20), r"$\mathrm{b)}$", fontsize=18, ha="left", va="center")

fig.savefig("out.png", dpi=100)
